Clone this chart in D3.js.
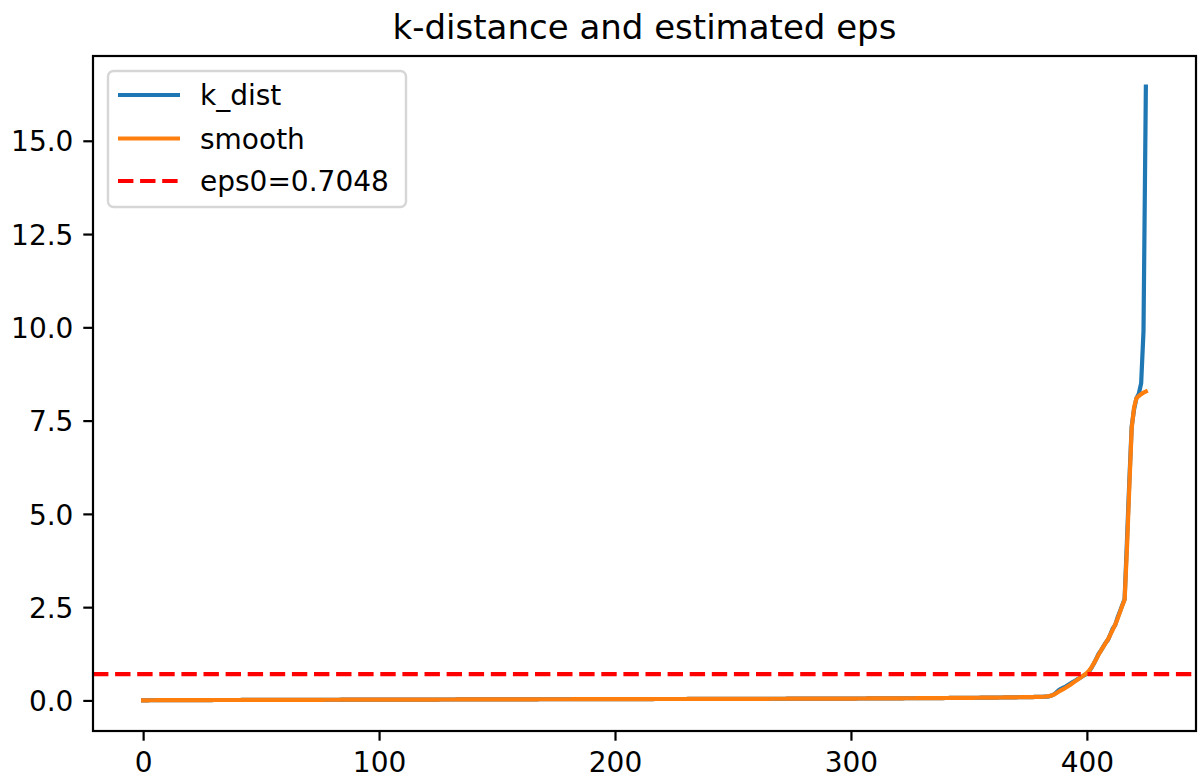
<!DOCTYPE html>
<html>
<head>
<meta charset="utf-8">
<script src="https://cdn.jsdelivr.net/npm/d3@7"></script>
<style>
  html, body { margin: 0; padding: 0; background: #fff; }
  svg { display: block; font-family: "DejaVu Sans", sans-serif; }
</style>
</head>
<body>
<svg id="chart" width="1202" height="778"></svg>
<script>
// ---- data ----
const title = "k-distance and estimated eps";
const seriesNames = ["k_dist", "smooth", "eps0=0.7048"];
const eps0 = 0.7048;
const xTicks = [0, 100, 200, 300, 400];
const yTicks = [0, 2.5, 5, 7.5, 10, 12.5, 15];

const kDist = [
  0.003,0.004,0.004,0.005,0.005,0.005,0.006,0.006,0.006,0.006,0.007,0.007,0.007,0.007,0.008,0.008,0.008,0.008,0.008,0.009,
  0.009,0.009,0.009,0.009,0.010,0.010,0.010,0.010,0.010,0.010,0.011,0.011,0.011,0.011,0.011,0.011,0.012,0.012,0.012,0.012,
  0.012,0.012,0.013,0.013,0.013,0.013,0.013,0.013,0.013,0.014,0.014,0.014,0.014,0.014,0.014,0.014,0.015,0.015,0.015,0.015,
  0.015,0.015,0.015,0.016,0.016,0.016,0.016,0.016,0.016,0.016,0.017,0.017,0.017,0.017,0.017,0.017,0.017,0.018,0.018,0.018,
  0.018,0.018,0.018,0.018,0.019,0.019,0.019,0.019,0.019,0.019,0.019,0.020,0.020,0.020,0.020,0.020,0.020,0.020,0.021,0.021,
  0.021,0.021,0.021,0.021,0.021,0.022,0.022,0.022,0.022,0.022,0.022,0.022,0.023,0.023,0.023,0.023,0.023,0.023,0.023,0.024,
  0.024,0.024,0.024,0.024,0.024,0.024,0.025,0.025,0.025,0.025,0.025,0.025,0.025,0.026,0.026,0.026,0.026,0.026,0.026,0.026,
  0.027,0.027,0.027,0.027,0.027,0.027,0.027,0.028,0.028,0.028,0.028,0.028,0.028,0.028,0.029,0.029,0.029,0.029,0.029,0.029,
  0.029,0.030,0.030,0.030,0.030,0.030,0.030,0.030,0.031,0.031,0.031,0.031,0.031,0.031,0.031,0.032,0.032,0.032,0.032,0.032,
  0.032,0.032,0.033,0.033,0.033,0.033,0.033,0.033,0.033,0.034,0.034,0.034,0.034,0.034,0.034,0.034,0.035,0.035,0.035,0.035,
  0.035,0.035,0.035,0.036,0.036,0.036,0.036,0.036,0.036,0.036,0.037,0.037,0.037,0.037,0.037,0.037,0.037,0.038,0.038,0.038,
  0.038,0.038,0.038,0.038,0.039,0.039,0.039,0.039,0.039,0.039,0.039,0.040,0.040,0.040,0.040,0.040,0.040,0.040,0.041,0.041,
  0.041,0.041,0.041,0.041,0.041,0.042,0.042,0.042,0.042,0.042,0.042,0.042,0.043,0.043,0.043,0.043,0.043,0.043,0.043,0.044,
  0.044,0.044,0.044,0.044,0.044,0.044,0.045,0.045,0.045,0.045,0.045,0.045,0.045,0.046,0.046,0.046,0.046,0.046,0.046,0.047,
  0.047,0.047,0.047,0.047,0.047,0.048,0.048,0.048,0.048,0.048,0.049,0.049,0.049,0.049,0.049,0.050,0.050,0.050,0.050,0.051,
  0.051,0.051,0.051,0.052,0.052,0.052,0.052,0.053,0.053,0.053,0.054,0.054,0.054,0.054,0.055,0.055,0.055,0.056,0.056,0.056,
  0.057,0.057,0.057,0.058,0.058,0.058,0.059,0.059,0.060,0.060,0.060,0.061,0.061,0.062,0.062,0.062,0.063,0.063,0.064,0.064,
  0.065,0.065,0.066,0.066,0.067,0.067,0.068,0.068,0.069,0.069,0.070,0.070,0.071,0.072,0.072,0.073,0.073,0.074,0.075,0.075,
  0.076,0.077,0.077,0.078,0.079,0.080,0.080,0.081,0.082,0.083,0.084,0.085,0.086,0.087,0.088,0.089,0.090,0.091,0.093,0.094,
  0.096,0.098,0.101,0.104,0.110,0.130,0.160,0.210,0.270,0.310,0.340,0.370,0.410,0.450,0.490,0.530,0.570,0.600,0.640,0.680,
  0.710,0.780,0.880,0.990,1.120,1.250,1.340,1.450,1.550,1.630,1.780,1.930,2.020,2.220,2.380,2.550,2.720,4.300,5.900,7.350,
  7.800,8.100,8.220,8.500,9.900,16.450
];

const smooth = [
  0.003,0.004,0.004,0.005,0.005,0.005,0.006,0.006,0.006,0.006,0.007,0.007,0.007,0.007,0.008,0.008,0.008,0.008,0.008,0.009,
  0.009,0.009,0.009,0.009,0.010,0.010,0.010,0.010,0.010,0.010,0.011,0.011,0.011,0.011,0.011,0.011,0.012,0.012,0.012,0.012,
  0.012,0.012,0.013,0.013,0.013,0.013,0.013,0.013,0.013,0.014,0.014,0.014,0.014,0.014,0.014,0.014,0.015,0.015,0.015,0.015,
  0.015,0.015,0.015,0.016,0.016,0.016,0.016,0.016,0.016,0.016,0.017,0.017,0.017,0.017,0.017,0.017,0.017,0.018,0.018,0.018,
  0.018,0.018,0.018,0.018,0.019,0.019,0.019,0.019,0.019,0.019,0.019,0.020,0.020,0.020,0.020,0.020,0.020,0.020,0.021,0.021,
  0.021,0.021,0.021,0.021,0.021,0.022,0.022,0.022,0.022,0.022,0.022,0.022,0.023,0.023,0.023,0.023,0.023,0.023,0.023,0.024,
  0.024,0.024,0.024,0.024,0.024,0.024,0.025,0.025,0.025,0.025,0.025,0.025,0.025,0.026,0.026,0.026,0.026,0.026,0.026,0.026,
  0.027,0.027,0.027,0.027,0.027,0.027,0.027,0.028,0.028,0.028,0.028,0.028,0.028,0.028,0.029,0.029,0.029,0.029,0.029,0.029,
  0.029,0.030,0.030,0.030,0.030,0.030,0.030,0.030,0.031,0.031,0.031,0.031,0.031,0.031,0.031,0.032,0.032,0.032,0.032,0.032,
  0.032,0.032,0.033,0.033,0.033,0.033,0.033,0.033,0.033,0.034,0.034,0.034,0.034,0.034,0.034,0.034,0.035,0.035,0.035,0.035,
  0.035,0.035,0.035,0.036,0.036,0.036,0.036,0.036,0.036,0.036,0.037,0.037,0.037,0.037,0.037,0.037,0.037,0.038,0.038,0.038,
  0.038,0.038,0.038,0.038,0.039,0.039,0.039,0.039,0.039,0.039,0.039,0.040,0.040,0.040,0.040,0.040,0.040,0.040,0.041,0.041,
  0.041,0.041,0.041,0.041,0.041,0.042,0.042,0.042,0.042,0.042,0.042,0.042,0.043,0.043,0.043,0.043,0.043,0.043,0.043,0.044,
  0.044,0.044,0.044,0.044,0.044,0.044,0.045,0.045,0.045,0.045,0.045,0.045,0.045,0.046,0.046,0.046,0.046,0.046,0.046,0.047,
  0.047,0.047,0.047,0.047,0.047,0.048,0.048,0.048,0.048,0.048,0.049,0.049,0.049,0.049,0.049,0.050,0.050,0.050,0.050,0.051,
  0.051,0.051,0.051,0.052,0.052,0.052,0.052,0.053,0.053,0.053,0.054,0.054,0.054,0.054,0.055,0.055,0.055,0.056,0.056,0.056,
  0.057,0.057,0.057,0.058,0.058,0.058,0.059,0.059,0.060,0.060,0.060,0.061,0.061,0.062,0.062,0.062,0.063,0.063,0.064,0.064,
  0.065,0.065,0.066,0.066,0.067,0.067,0.068,0.068,0.069,0.069,0.070,0.070,0.071,0.072,0.072,0.073,0.073,0.074,0.075,0.075,
  0.076,0.077,0.077,0.078,0.079,0.080,0.080,0.081,0.082,0.083,0.084,0.085,0.086,0.087,0.088,0.089,0.090,0.091,0.093,0.094,
  0.096,0.099,0.102,0.107,0.115,0.130,0.155,0.195,0.235,0.270,0.305,0.340,0.380,0.420,0.465,0.510,0.555,0.600,0.645,0.690,
  0.735,0.800,0.890,1.000,1.110,1.230,1.340,1.440,1.540,1.640,1.770,1.900,2.030,2.190,2.360,2.540,2.700,4.100,5.750,7.300,
  7.850,8.100,8.160,8.210,8.250,8.280
];

// ---- layout ----
const svg = d3.select("#chart");
const W = 1202, H = 778;
const plot = { left: 93, right: 1196, top: 56, bottom: 731 };
const n = kDist.length;
const xPad = (n - 1) * 0.05;
const yMin = d3.min(kDist.concat(smooth)), yMax = d3.max(kDist.concat(smooth));
const yPad = (yMax - yMin) * 0.05;

const x = d3.scaleLinear().domain([-xPad, (n - 1) + xPad]).range([plot.left, plot.right]);
const y = d3.scaleLinear().domain([yMin - yPad, yMax + yPad]).range([plot.bottom, plot.top]);

const FS = 28;       // tick / legend font size
const TFS = 34;      // title font size
const LW = 4.2;      // data line width
const SW = 2.2;      // spine width
const TL = 9.7;      // tick length

svg.append("rect").attr("width", W).attr("height", H).attr("fill", "#fff");

// data lines
const line = d3.line().x((d, i) => x(i)).y(d => y(d));
svg.append("path").datum(kDist).attr("d", line)
  .attr("fill", "none").attr("stroke", "#1f77b4").attr("stroke-width", LW)
  .attr("stroke-linejoin", "round").attr("stroke-linecap", "square");
svg.append("path").datum(smooth).attr("d", line)
  .attr("fill", "none").attr("stroke", "#ff7f0e").attr("stroke-width", LW)
  .attr("stroke-linejoin", "round").attr("stroke-linecap", "square");
svg.append("line")
  .attr("x1", plot.left).attr("x2", plot.right)
  .attr("y1", y(eps0)).attr("y2", y(eps0))
  .attr("stroke", "#ff0000").attr("stroke-width", LW)
  .attr("stroke-dasharray", "15.4,6.7");

// axes
const xAxis = d3.axisBottom(x).tickValues(xTicks).tickFormat(d3.format("d"))
  .tickSizeInner(TL).tickSizeOuter(0).tickPadding(9.7);
const yAxis = d3.axisLeft(y).tickValues(yTicks).tickFormat(d3.format(".1f"))
  .tickSizeInner(TL).tickSizeOuter(0).tickPadding(9.7);

const gx = svg.append("g").attr("transform", `translate(0,${plot.bottom})`).call(xAxis);
const gy = svg.append("g").attr("transform", `translate(${plot.left},0)`).call(yAxis);
[gx, gy].forEach(g => {
  g.select(".domain").remove();
  g.selectAll(".tick line").attr("stroke", "#000").attr("stroke-width", SW);
  g.selectAll(".tick text").attr("fill", "#000")
    .style("font-family", "'DejaVu Sans', sans-serif").style("font-size", FS + "px");
});
gx.selectAll(".tick text").attr("dy", null).attr("y", 41);
gy.selectAll(".tick text").attr("dy", null).attr("y", 10.2).attr("x", -19.6);

// spines
svg.append("rect")
  .attr("x", plot.left).attr("y", plot.top)
  .attr("width", plot.right - plot.left).attr("height", plot.bottom - plot.top)
  .attr("fill", "none").attr("stroke", "#000").attr("stroke-width", SW)
  .attr("stroke-linejoin", "miter");

// title
svg.append("text")
  .attr("x", (plot.left + plot.right) / 2).attr("y", 39)
  .attr("text-anchor", "middle")
  .style("font-size", TFS + "px").attr("fill", "#000")
  .text(title);

// legend
const leg = svg.append("g");
leg.append("rect")
  .attr("x", 108).attr("y", 71).attr("width", 298).attr("height", 136)
  .attr("rx", 5.6).attr("ry", 5.6)
  .attr("fill", "rgba(255,255,255,0.8)")
  .attr("stroke", "rgba(204,204,204,0.8)").attr("stroke-width", 2.4);
const legRows = [
  { name: seriesNames[0], color: "#1f77b4", dash: null, yy: 95 },
  { name: seriesNames[1], color: "#ff7f0e", dash: null, yy: 138.5 },
  { name: seriesNames[2], color: "#ff0000", dash: "15.4,6.7", yy: 181 }
];
legRows.forEach(r => {
  const l = leg.append("line")
    .attr("x1", 118).attr("x2", 180).attr("y1", r.yy).attr("y2", r.yy)
    .attr("stroke", r.color).attr("stroke-width", LW);
  if (r.dash) l.attr("stroke-dasharray", r.dash);
  leg.append("text")
    .attr("x", 200).attr("y", r.yy + 10)
    .style("font-size", FS + "px").attr("fill", "#000")
    .text(r.name);
});
</script>
</body>
</html>
